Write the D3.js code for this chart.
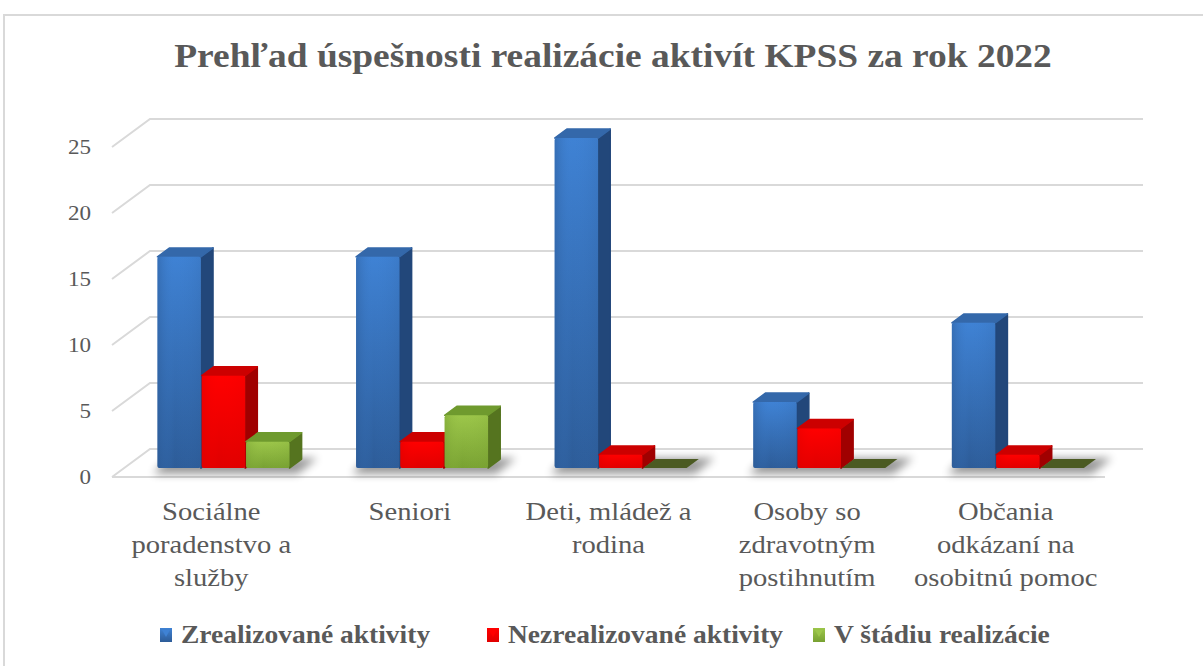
<!DOCTYPE html>
<html>
<head>
<meta charset="utf-8">
<script src="https://cdn.jsdelivr.net/npm/d3@7"></script>
<style>
  body { margin: 0; background: #fff; }
</style>
</head>
<body>
<div id="chart"></div>
<script>
(function(){
// data
const categories = [
    ["Sociálne", "poradenstvo a", "služby"],
    ["Seniori"],
    ["Deti, mládež a", "rodina"],
    ["Osoby so", "zdravotným", "postihnutím"],
    ["Občania", "odkázaní na", "osobitnú pomoc"]
];
const seriesNames = ["Zrealizované aktivity", "Nezrealizované aktivity", "V štádiu realizácie"];
const realized    = [16, 16, 25, 5, 11];
const notRealized = [7, 2, 1, 3, 1];
const inProgress  = [2, 4, 0, 0, 0];
const yTicks = [0, 5, 10, 15, 20, 25];

const seriesValues = [realized, notRealized, inProgress];
const colors = [
    { light: "#3f82d4", dark: "#2d5c98", side: "#22477a", top: "#3468aa", zero: "#2b4f80" },
    { light: "#ff0000", dark: "#e00000", side: "#a00000", top: "#cc0000", zero: "#b00000" },
    { light: "#9cc64a", dark: "#78a132", side: "#55741f", top: "#6f9a2e", zero: "#4b5a22" }
];

const W = 1203, H = 666;
const floorY = 477;          // front floor line
const depthX = 38, depthY = -28;
const x0 = 112, x1 = 1105;

const svg = d3.select("#chart").append("svg")
    .attr("width", W).attr("height", H);

// text placed with a horizontal stretch (the picture's text is a bit wider than tall)
function label(parent, x, y, txt, size, anchor, bold, sx = 1.1) {
    return parent.append("text")
        .attr("transform", `translate(${x},${y}) scale(${sx},1)`)
        .attr("text-anchor", anchor)
        .attr("fill", "#595959")
        .style("font-family", '"Liberation Serif", "Times New Roman", serif')
        .style("font-size", size + "px")
        .style("font-weight", bold ? "bold" : "normal")
        .text(txt);
}

const defs = svg.append("defs");
colors.forEach((c, i) => {
    const g = defs.append("linearGradient").attr("id", "grad" + i)
        .attr("x1", 0).attr("y1", 0).attr("x2", 0).attr("y2", 1);
    g.append("stop").attr("offset", "0%").attr("stop-color", c.light);
    g.append("stop").attr("offset", "100%").attr("stop-color", c.dark);
    const gh = defs.append("linearGradient").attr("id", "hgrad" + i)
        .attr("x1", 0).attr("y1", 0).attr("x2", 1).attr("y2", 0);
    gh.append("stop").attr("offset", "0%").attr("stop-color", c.dark);
    gh.append("stop").attr("offset", "40%").attr("stop-color", c.light).attr("stop-opacity", 0);
    gh.append("stop").attr("offset", "100%").attr("stop-color", c.dark).attr("stop-opacity", 0.4);
});
defs.append("filter").attr("id", "blur")
    .attr("x", "-30%").attr("y", "-100%").attr("width", "160%").attr("height", "300%")
    .append("feGaussianBlur").attr("stdDeviation", 4);

// outer frame
svg.append("path")
    .attr("d", `M4,${H} L4,15 L${W},15`)
    .attr("fill", "none").attr("stroke", "#d9d9d9").attr("stroke-width", 2);

// title
label(svg, 613, 67, "Prehľad úspešnosti realizácie aktivít KPSS za rok 2022", 33, "middle", true, 1.135);

// scales
const y = d3.scaleLinear().domain([0, 25]).range([0, 330]);
const x = d3.scaleBand().domain(d3.range(categories.length)).range([x0, x1]);
const xs = d3.scaleBand().domain(d3.range(seriesNames.length))
    .range([0, 132]).paddingInner(0.02);

// gridlines: back wall + left wall diagonals
const grid = svg.append("g").attr("stroke", "#d9d9d9").attr("stroke-width", 2).attr("fill", "none");
yTicks.forEach(t => {
    const fy = floorY - y(t);
    grid.append("path")
        .attr("d", `M${x0},${fy} L${x0 + depthX},${fy + depthY} L${x1 + depthX},${fy + depthY}`);
});
grid.append("line")
    .attr("x1", x0).attr("x2", x1).attr("y1", floorY).attr("y2", floorY);

// y tick labels
const ticks = svg.append("g");
yTicks.forEach(t => label(ticks, 91, floorY - y(t) + 7, t, 21, "end", false));

// bars
const zf = 0.32, zb = 0.64;  // bar depth as fraction of floor depth
const bars = svg.append("g");
categories.forEach((cat, ci) => {
    const groupStart = x(ci) + (x.bandwidth() - xs.range()[1]) / 2;
    // floor shadow
    const px = groupStart + depthX * zf, py = floorY + depthY * zf;
    bars.append("path")
        .attr("d", `M${px - 4},${py + 6} L${px + 140},${py + 6} L${px + 160},${py - 10} L${px + 10},${py - 10} Z`)
        .attr("fill", "#000").attr("opacity", 0.4).attr("filter", "url(#blur)");
});
categories.forEach((cat, ci) => {
    const groupStart = x(ci) + (x.bandwidth() - xs.range()[1]) / 2;
    seriesValues.forEach((vals, si) => {
        const v = vals[ci];
        const c = colors[si];
        const bx = groupStart + xs(si) + depthX * zf;
        const by = floorY + depthY * zf;
        const bw = xs.bandwidth();
        const h = y(v);
        const ddx = depthX * (zb - zf), ddy = depthY * (zb - zf);
        const g = bars.append("g");
        if (v === 0) {
            g.append("path")
                .attr("d", `M${bx},${by} L${bx + bw},${by} L${bx + bw + ddx},${by + ddy} L${bx + ddx},${by + ddy} Z`)
                .attr("fill", c.zero);
            return;
        }
        // side face
        g.append("path")
            .attr("d", `M${bx + bw},${by} L${bx + bw},${by - h} L${bx + bw + ddx},${by - h + ddy} L${bx + bw + ddx},${by + ddy} Z`)
            .attr("fill", c.side).attr("stroke", c.side).attr("stroke-linejoin", "round").attr("stroke-width", 1.5);
        // top face
        g.append("path")
            .attr("d", `M${bx},${by - h} L${bx + bw},${by - h} L${bx + bw + ddx},${by - h + ddy} L${bx + ddx},${by - h + ddy} Z`)
            .attr("fill", c.top).attr("stroke", c.top).attr("stroke-linejoin", "round").attr("stroke-width", 1.5);
        // front face
        g.append("rect")
            .attr("x", bx).attr("y", by - h).attr("width", bw).attr("height", h)
            .attr("rx", 2)
            .attr("fill", `url(#grad${si})`);
        g.append("rect")
            .attr("x", bx).attr("y", by - h).attr("width", bw).attr("height", h)
            .attr("rx", 2)
            .attr("fill", `url(#hgrad${si})`).attr("opacity", 0.5);
    });
});

// category labels
const lab = svg.append("g");
categories.forEach((cat, ci) => {
    cat.forEach((line, li) => {
        label(lab, x(ci) + x.bandwidth() / 2, 520 + li * 33, line, 26, "middle", false);
    });
});

// legend
const legendX = [160, 487, 813];
const leg = svg.append("g");
seriesNames.forEach((name, si) => {
    const lx = legendX[si];
    leg.append("rect")
        .attr("x", lx).attr("y", 628).attr("width", 12).attr("height", 14)
        .attr("fill", `url(#grad${si})`);
    leg.append("path")
        .attr("d", `M${lx + 2},${630} L${lx + 10},${630} L${lx + 6},${637} Z`)
        .attr("fill", colors[si].light);
    label(leg, lx + 21, 643, name, 25, "start", true);
});
})();
</script>
</body>
</html>
